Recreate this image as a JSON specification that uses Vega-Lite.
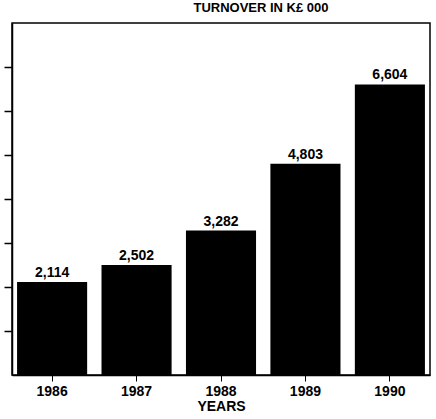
{
  "$schema": "https://vega.github.io/schema/vega-lite/v6.json",
  "width": 436,
  "height": 419,
  "autosize": {"type": "fit", "contains": "padding"},
  "padding": {"left": 3, "right": 6, "top": 2, "bottom": 6},
  "background": "white",
  "title": {"text": "TURNOVER IN K£ 000", "font": "Liberation Sans", "fontSize": 13, "fontWeight": "bold", "color": "black", "offset": 8, "anchor": "middle", "dx": 40},
  "config": {"view": {"stroke": "black", "strokeWidth": 1.5}},
  "data": {"values": [
    {"year": "1986", "turnover": 2114},
    {"year": "1987", "turnover": 2502},
    {"year": "1988", "turnover": 3282},
    {"year": "1989", "turnover": 4803},
    {"year": "1990", "turnover": 6604}
  ]},
  "encoding": {
    "x": {"field": "year", "type": "nominal", "sort": null,
      "scale": {"paddingInner": 0.17, "paddingOuter": 0.06},
      "axis": {"title": "YEARS", "labelAngle": 0, "labelFont": "Liberation Sans", "labelFontSize": 14, "labelFontWeight": "bold", "labelColor": "black", "titleFont": "Liberation Sans", "titleFontSize": 14, "titleFontWeight": "bold", "titleColor": "black", "titlePadding": 1, "domainColor": "black", "domainWidth": 1.5, "tickColor": "black", "tickSize": 6, "labelPadding": 3}},
    "y": {"field": "turnover", "type": "quantitative",
      "scale": {"domain": [0, 8000], "nice": false},
      "axis": {"title": null, "labels": false, "values": [1000, 2000, 3000, 4000, 5000, 6000, 7000], "grid": false, "domainColor": "black", "tickColor": "black", "tickSize": 8, "tickWidth": 1.5, "domainWidth": 1.5}}
  },
  "layer": [
    {"mark": {"type": "bar", "color": "black"}},
    {"mark": {"type": "text", "baseline": "bottom", "dy": -2, "font": "Liberation Sans", "fontSize": 14, "fontWeight": "bold", "color": "black"},
     "encoding": {"text": {"field": "turnover", "type": "quantitative", "format": ","}}}
  ]
}
